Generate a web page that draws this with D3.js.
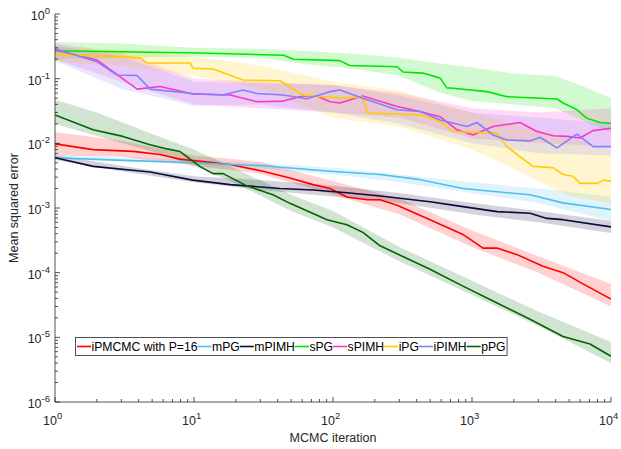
<!DOCTYPE html>
<html>
<head>
<meta charset="utf-8">
<script src="https://cdn.jsdelivr.net/npm/d3@7"></script>
<style>
  body { margin: 0; background: #fff; }
  svg { font-family: "Liberation Sans", Arial, sans-serif; }
</style>
</head>
<body>
<svg id="chart" width="621" height="449"></svg>
<script>
// mean squared error vs MCMC iteration: [iteration, mse]
const iPMCMC = [[1,0.0098],[1.88,0.008],[3.64,0.0075],[5.7,0.0067],[7.9,0.0057],[18.2,0.0047],[31.4,0.0037],[49,0.0029],[71.8,0.0023],[95,0.002],[126,0.00148],[176,0.00134],[218,0.00134],[289,0.0011],[499,0.00066],[861,0.00039],[1200,0.00024],[1514,0.00024],[2107,0.00019],[3240,0.000126],[4520,0.0001],[6290,6.7e-5],[10000,3.9e-5]];
const mPG = [[1,0.006],[2.79,0.0055],[7.9,0.0051],[31.4,0.0045],[95,0.0037],[218,0.0033],[400,0.0028],[861,0.002],[2614,0.0016],[4520,0.0012],[10000,0.00095]];
const mPIMH = [[1,0.006],[1.88,0.0044],[4.83,0.0036],[9.8,0.0027],[18.2,0.0023],[41.6,0.002],[71.8,0.0019],[126,0.00172],[218,0.00153],[499,0.00125],[861,0.00105],[1514,0.00088],[2614,0.00083],[3465,0.00069],[4520,0.00066],[10000,0.00051]];
const sPG = [[1,0.27],[11,0.25],[44,0.23],[52,0.2],[112,0.19],[132,0.16],[290,0.153],[318,0.127],[443,0.122],[590,0.102],[660,0.072],[730,0.071],[1280,0.063],[1786,0.0527],[4090,0.0485],[4520,0.042],[5690,0.033],[6720,0.0244],[8340,0.021],[10000,0.0204]];
const sPIMH = [[1,0.278],[2,0.195],[3.9,0.069],[5.7,0.0755],[9.8,0.058],[18.2,0.056],[28.4,0.044],[43.7,0.045],[60.8,0.054],[76.7,0.054],[95,0.044],[112,0.042],[164,0.054],[289,0.037],[400,0.032],[589,0.0258],[780,0.0162],[1016,0.0135],[1416,0.0182],[2215,0.021],[2936,0.0152],[3826,0.0131],[4825,0.0128],[5984,0.0121],[7430,0.0157],[10000,0.0171]];
const iPG = [[1,0.24],[4.1,0.21],[4.6,0.175],[9.4,0.175],[9.8,0.145],[13.7,0.141],[22.5,0.0955],[41.6,0.093],[60.8,0.056],[112,0.05],[164,0.052],[176,0.0295],[423,0.0275],[589,0.0217],[730,0.0152],[1514,0.0143],[1786,0.0089],[2215,0.0062],[2750,0.0044],[3826,0.0042],[4520,0.0033],[5330,0.0031],[5984,0.0024],[7940,0.0024],[8800,0.0027],[10000,0.0026]];
const iPIMH = [[1,0.29],[2,0.183],[2.79,0.114],[3.9,0.112],[4.83,0.069],[9.8,0.059],[16.2,0.056],[22.5,0.067],[28.4,0.059],[43.7,0.056],[65,0.049],[95,0.063],[112,0.067],[164,0.05],[289,0.033],[423,0.031],[589,0.023],[920,0.0182],[1086,0.021],[1416,0.0135],[1786,0.0113],[2614,0.0109],[3085,0.0124],[4090,0.0085],[5690,0.0139],[7430,0.0089],[10000,0.0089]];
const pPG = [[1,0.0275],[1.88,0.0162],[3.08,0.0128],[4.83,0.0095],[6.4,0.0082],[7.9,0.0075],[11,0.0044],[13.7,0.0034],[16.2,0.0034],[24,0.0022],[37,0.0016],[49,0.00118],[71.8,0.00082],[90.5,0.00066],[126,0.00055],[164,0.00042],[218,0.00026],[499,0.000113],[861,6.2e-5],[1514,3.4e-5],[2614,1.9e-5],[4520,1.03e-5],[7060,7.9e-6],[10000,5.1e-6]];

// shaded spread: [iteration, low, high]
const iPMCMCband = [[1,0.0065,0.015],[3,0.0062,0.011],[10,0.0045,0.0065],[30,0.0034,0.0052],[100,0.0016,0.0026],[300,0.0008,0.0014],[1000,0.00025,0.00045],[3000,0.0001,0.00018],[10000,3e-5,6.7e-5]];
const mPGband = [[1,0.0057,0.0065],[10,0.0048,0.0056],[100,0.0033,0.0042],[300,0.0025,0.0033],[1000,0.0017,0.0025],[3000,0.0012,0.002],[10000,0.00063,0.0015]];
const mPIMHband = [[1,0.0055,0.0066],[3,0.0037,0.0045],[10,0.0025,0.0031],[30,0.0019,0.0027],[100,0.0015,0.0022],[300,0.0012,0.0017],[1000,0.0008,0.0012],[3000,0.0006,0.0009],[10000,0.00041,0.00063]];
const sPGband = [[1,0.2,0.37],[3,0.21,0.35],[10,0.22,0.3],[30,0.21,0.29],[60,0.17,0.27],[150,0.14,0.24],[300,0.11,0.21],[600,0.06,0.17],[1000,0.045,0.15],[2000,0.04,0.12],[4000,0.035,0.11],[7000,0.02,0.07],[10000,0.015,0.05]];
const sPIMHband = [[1,0.2,0.35],[3,0.09,0.25],[10,0.04,0.1],[30,0.035,0.09],[100,0.03,0.08],[300,0.025,0.06],[1000,0.012,0.035],[3000,0.01,0.03],[10000,0.009,0.035]];
const iPGband = [[1,0.18,0.31],[3,0.16,0.28],[10,0.11,0.22],[30,0.07,0.16],[100,0.025,0.09],[300,0.018,0.065],[1000,0.008,0.03],[2000,0.004,0.02],[5000,0.0015,0.012],[10000,0.0012,0.008]];
const iPIMHband = [[1,0.19,0.33],[3,0.07,0.22],[10,0.038,0.09],[30,0.04,0.085],[100,0.03,0.08],[300,0.02,0.055],[1000,0.01,0.03],[3000,0.007,0.025],[10000,0.0065,0.02]];
const pPGband = [[1,0.02,0.047],[2,0.013,0.03],[5,0.0075,0.014],[10,0.0045,0.008],[20,0.0024,0.004],[50,0.0009,0.0016],[100,0.0005,0.0009],[300,0.00015,0.00025],[1000,4.5e-5,7.5e-5],[3000,1.5e-5,2.5e-5],[10000,4e-6,8.5e-6]];

const names = ['iPMCMC with P=16', 'mPG', 'mPIMH', 'sPG', 'sPIMH', 'iPG', 'iPIMH', 'pPG'];
const colors = ['#ff0000', '#4dbeee', '#0b0b3b', '#00e600', '#ff33cc', '#ffcc00', '#8080ff', '#006400'];
const xTicks = [1, 10, 100, 1000, 10000];
const yTicks = [1e-6, 1e-5, 1e-4, 1e-3, 1e-2, 1e-1, 1];

const series = [
  [iPMCMC, iPMCMCband], [mPG, mPGband], [mPIMH, mPIMHband], [sPG, sPGband],
  [sPIMH, sPIMHband], [iPG, iPGband], [iPIMH, iPIMHband], [pPG, pPGband]
].map((s, i) => ({ name: names[i], color: colors[i], line: s[0], band: s[1] }));

const svg = d3.select('#chart');
const margin = { top: 14, right: 10, bottom: 47, left: 55 };
const W = 621, H = 449;
const fs = 12.5;
const x = d3.scaleLog().domain([1, 1e4]).range([margin.left, W - margin.right]);
const y = d3.scaleLog().domain([1e-6, 1]).range([H - margin.bottom, margin.top]);
const axisCol = '#262626';

const plot = svg.append('g');
svg.append('clipPath').attr('id', 'clip')
  .append('rect').attr('x', margin.left).attr('y', margin.top)
  .attr('width', x(1e4) - x(1)).attr('height', y(1e-6) - y(1));

const area = d3.area().x(d => x(d[0])).y0(d => y(d[1])).y1(d => y(d[2]));
const line = d3.line().x(d => x(d[0])).y(d => y(d[1]));

plot.selectAll('path.band').data(series).join('path')
  .attr('class', 'band')
  .attr('clip-path', 'url(#clip)')
  .attr('d', d => area(d.band))
  .attr('fill', d => d.color)
  .attr('fill-opacity', 0.18);

plot.selectAll('path.line').data(series).join('path')
  .attr('class', 'line')
  .attr('clip-path', 'url(#clip)')
  .attr('d', d => line(d.line))
  .attr('fill', 'none')
  .attr('stroke', d => d.color)
  .attr('stroke-width', 1.6)
  .attr('stroke-linejoin', 'round');

// axes, MATLAB-ish: ticks inward, no box
const minor = (lo, hi) => {
  const out = [];
  for (let p = lo; p < hi; p++) for (let k = 2; k <= 9; k++) out.push(k * Math.pow(10, p));
  return out;
};
const ax = svg.append('g').attr('stroke', axisCol).attr('stroke-width', 0.8);
const y0 = y(1e-6), x0 = x(1);
ax.append('line').attr('x1', x0).attr('x2', x(1e4)).attr('y1', y0).attr('y2', y0);
ax.append('line').attr('x1', x0).attr('x2', x0).attr('y1', y0).attr('y2', y(1));
ax.selectAll('line.xt').data(xTicks).join('line').attr('class', 'xt')
  .attr('x1', d => x(d)).attr('x2', d => x(d)).attr('y1', y0).attr('y2', y0 - 5);
ax.selectAll('line.xm').data(minor(0, 4)).join('line').attr('class', 'xm')
  .attr('x1', d => x(d)).attr('x2', d => x(d)).attr('y1', y0).attr('y2', y0 - 3);
ax.selectAll('line.yt').data(yTicks).join('line').attr('class', 'yt')
  .attr('y1', d => y(d)).attr('y2', d => y(d)).attr('x1', x0).attr('x2', x0 + 5);
ax.selectAll('line.ym').data(minor(-6, 0)).join('line').attr('class', 'ym')
  .attr('y1', d => y(d)).attr('y2', d => y(d)).attr('x1', x0).attr('x2', x0 + 3);

const pow = (sel) => {
  sel.append('tspan').text('10');
  sel.append('tspan').attr('dy', -6).attr('font-size', 9.5).text(d => Math.round(Math.log10(d)));
};
svg.append('g').selectAll('text').data(xTicks).join('text')
  .attr('x', d => x(d) - 12).attr('y', y0 + 23)
  .attr('font-size', fs).attr('fill', axisCol)
  .call(pow)
  .each(function () {
    // keep the last label inside the picture, as MATLAB does
    const b = this.getBBox();
    if (b.x + b.width > W - 1) d3.select(this).attr('x', +d3.select(this).attr('x') - (b.x + b.width - W + 1));
  });
svg.append('g').selectAll('text').data(yTicks).join('text')
  .attr('x', x0 - 5).attr('y', d => y(d) + 6)
  .attr('text-anchor', 'end').attr('font-size', fs).attr('fill', axisCol)
  .call(pow);

svg.append('text').attr('x', (x(1) + x(1e4)) / 2).attr('y', 442)
  .attr('text-anchor', 'middle').attr('font-size', fs).attr('fill', axisCol)
  .text('MCMC iteration');
svg.append('text').attr('transform', `translate(18,${(y(1) + y(1e-6)) / 2}) rotate(-90)`)
  .attr('text-anchor', 'middle').attr('font-size', fs).attr('fill', axisCol)
  .text('Mean squared error');

// legend, single row
const leg = svg.append('g');
const legBox = leg.append('rect').attr('x', 75.5).attr('y', 337.5).attr('height', 18)
  .attr('fill', '#fff').attr('stroke', axisCol).attr('stroke-width', 0.8);
let cx = 77;
series.forEach(s => {
  leg.append('line').attr('x1', cx).attr('x2', cx + 14).attr('y1', 346.5).attr('y2', 346.5)
    .attr('stroke', s.color).attr('stroke-width', 1.6);
  const t = leg.append('text').attr('x', cx + 14.5).attr('y', 351)
    .attr('font-size', 12.2).attr('fill', '#000').text(s.name);
  cx += 14.5 + t.node().getComputedTextLength();
});
legBox.attr('width', cx + 1.5 - 75.5);
</script>
</body>
</html>
